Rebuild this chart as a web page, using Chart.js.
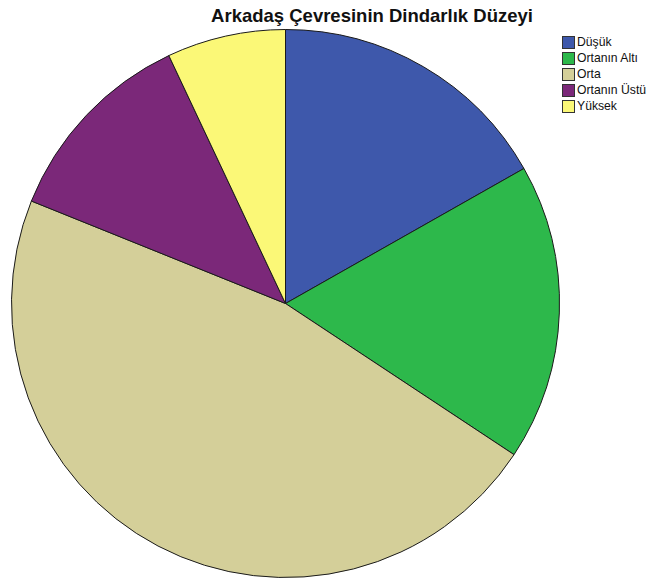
<!DOCTYPE html>
<html>
<head>
<meta charset="utf-8">
<script src="https://cdn.jsdelivr.net/npm/chart.js@4"></script>
<style>
  body { margin: 0; background: #fff; width: 649px; height: 581px; position: relative; overflow: hidden; font-family: "Liberation Sans", Arial, sans-serif; }
  .title { position: absolute; left: 0; width: 744px; top: 4px; text-align: center; font-weight: bold; font-size: 18.5px; line-height: 24px; color: #111; }
  .chart-wrap { position: absolute; left: 10px; top: 29px; width: 551px; height: 549px; }
  .legend { position: absolute; left: 562px; top: 34px; font-size: 12.2px; color: #111; white-space: nowrap; }
  .legend-row { display: flex; align-items: center; height: 16px; }
  .legend-box { flex: none; width: 11px; height: 11px; border: 1px solid #333; margin-right: 2px; }
</style>
</head>
<body>
<div class="title">Arkadaş Çevresinin Dindarlık Düzeyi</div>
<div class="chart-wrap"><canvas id="pie"></canvas></div>
<div class="legend" id="legend"></div>
<script>
// ── Data ──────────────────────────────────────────────────────────────────────
const categories = ['Düşük', 'Ortanın Altı', 'Orta', 'Ortanın Üstü', 'Yüksek'];
const percents   = [16.8, 17.5, 46.8, 11.9, 7.0];
const colors     = ['#3e58ab', '#2db84b', '#d4cf99', '#7b2879', '#fbf877'];

document.getElementById('legend').innerHTML = categories.map((c, i) => `
  <div class="legend-row">
    <span class="legend-box" style="background:${colors[i]}"></span>${c}
  </div>`).join('');

new Chart(document.getElementById('pie'), {
  type: 'pie',
  data: {
    labels: categories,
    datasets: [{
      data: percents,
      backgroundColor: colors,
      borderColor: '#1a1a1a',
      borderWidth: 1,
    }],
  },
  options: {
    responsive: true,
    maintainAspectRatio: false,
    animation: false,
    layout: { padding: 0 },
    plugins: {
      legend: { display: false },
      tooltip: { enabled: false },
    },
  },
});
</script>
</body>
</html>
